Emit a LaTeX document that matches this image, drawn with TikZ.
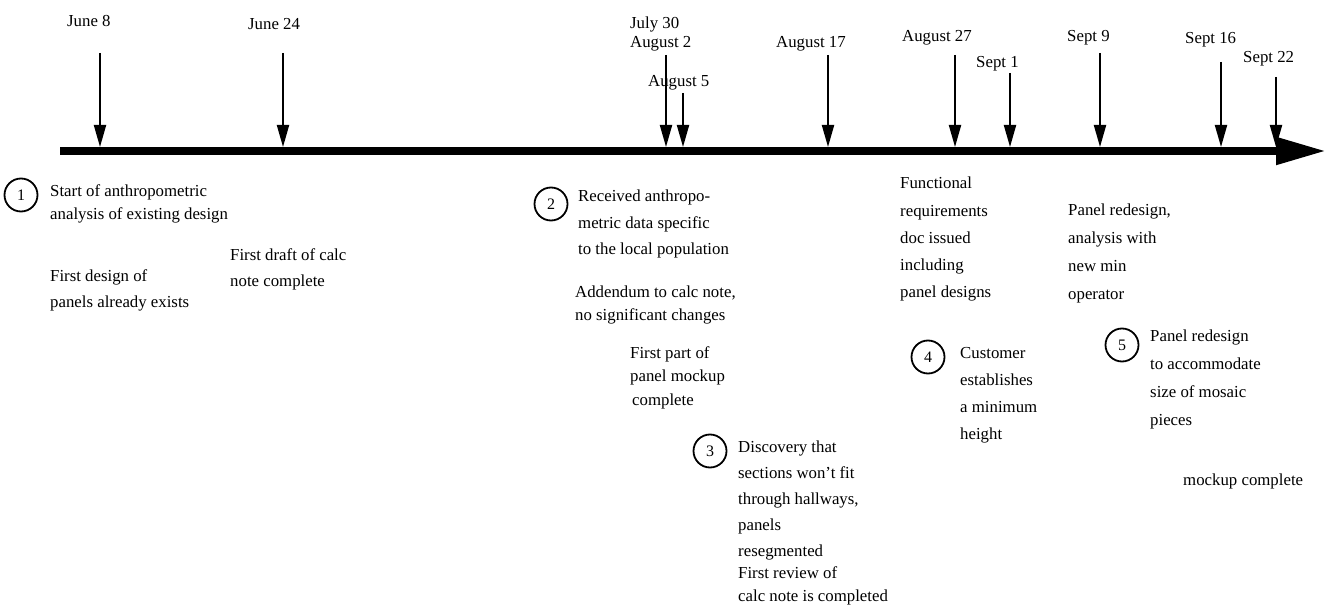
\documentclass[tikz,border=0pt]{standalone}
\usepackage{fontspec}
\setmainfont{Liberation Serif}
\usetikzlibrary{arrows.meta}
\begin{document}
\begin{tikzpicture}[x=1pt,y=-1pt,
    dateline/.style={line width=2pt, -{Triangle[length=22pt,width=12pt]}},
    datelabel/.style={anchor=base west, inner sep=0pt, align=left, font=\fontsize{16.8}{19}\selectfont},
    note/.style={anchor=base west, inner sep=0pt, align=left, font=\fontsize{16.8}{#1}\selectfont},
    note/.default=27,
    stepnum/.style={draw, circle, line width=1.8pt, minimum size=33pt, inner sep=0pt, font=\fontsize{16}{16}\selectfont}]
    \useasboundingbox (0,0) rectangle (1330,612);
    % time axis
    \coordinate (tstart) at (60,151);
    \coordinate (tend) at (1326,151);
    \draw[line width=8pt, -{Triangle[length=50pt,width=26pt]}] (tstart) -- (tend);
    % date arrows
    \foreach \n/\x/\t in {jun8/100/53, jun24/283/53, aug2/666/55, aug5/683/93, aug17/828/55,
                          aug27/955/55, sep1/1010/73, sep9/1100/53, sep16/1221/62, sep22/1276/77}{
        \coordinate (top\n) at (\x,\t);
        \coordinate (hit\n) at (\x,147);
        \draw[dateline] (top\n) -- (hit\n);
    }
    % labels sit on the baseline of their last line
    \node[datelabel] (ljun8) at (67,27) {June 8};
    \node[datelabel] (ljun24) at (248,30) {June 24};
    \node[datelabel] (laug2) at (630,48) {July 30\\August 2};
    \node[datelabel] (laug5) at (648,87) {August 5};
    \node[datelabel] (laug17) at (776,48) {August 17};
    \node[datelabel] (laug27) at (902,42) {August 27};
    \node[datelabel] (lsep1) at (976,68) {Sept 1};
    \node[datelabel] (lsep9) at (1067,42) {Sept 9};
    \node[datelabel] (lsep16) at (1185,44) {Sept 16};
    \node[datelabel] (lsep22) at (1243,63) {Sept 22};
    % events
    \node[stepnum] (c1) at (21,195) {1};
    \node[note=23] (n1) at (50,220) {Start of anthropometric\\analysis of existing design};
    \node[note=25] (n1b) at (50,307) {First design of\\panels already exists};
    \node[note=26] (n1c) at (230,287) {First draft of calc\\note complete};
    \node[stepnum] (c2) at (551,204) {2};
    \node[note] (n2) at (578,255) {Received anthropo-\\metric data specific\\to the local population};
    \node[note=23] (n2b) at (575,320) {Addendum to calc note,\\no significant changes};
    \node[note=23.5] (n2c) at (630,405) {First part of\\panel mockup\\\hspace{2pt}complete};
    \node[stepnum] (c3) at (710,451) {3};
    \node[note=26] (n3) at (738,556) {Discovery that\\sections won't fit\\through hallways,\\panels\\resegmented};
    \node[note=23] (n3b) at (738,601) {First review of\\calc note is completed};
    \node[note=27.3] (n4a) at (900,298) {Functional\\requirements\\doc issued\\including\\panel designs};
    \node[stepnum] (c4) at (928,357) {4};
    \node[note] (n4) at (960,439) {Customer\\establishes\\a minimum\\height};
    \node[note=27.7] (n5a) at (1068,299) {Panel redesign,\\analysis with\\new min\\operator};
    \node[stepnum] (c5) at (1122,345) {5};
    \node[note=28] (n5) at (1150,425) {Panel redesign\\to accommodate\\size of mosaic\\pieces};
    \node[note] (n5b) at (1183,485) {mockup complete};
\end{tikzpicture}
\end{document}
